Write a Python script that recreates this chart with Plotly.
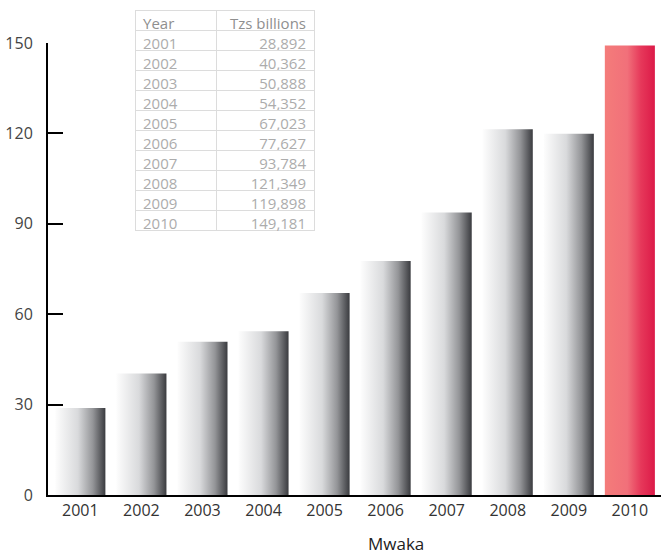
import plotly.graph_objects as go

# Data
years = ["2001", "2002", "2003", "2004", "2005", "2006", "2007", "2008", "2009", "2010"]
tzs_billions = [28.892, 40.362, 50.888, 54.352, 67.023, 77.627, 93.784, 121.349, 119.898, 149.181]
table_values = ["28,892", "40,362", "50,888", "54,352", "67,023", "77,627",
                "93,784", "121,349", "119,898", "149,181"]
y_ticks = [0, 30, 60, 90, 120, 150]
highlight_year = "2010"

W, H = 661, 555
FONT = "Open Sans"

grey_scale = [[0.0, "#fdfdfd"], [0.45, "#d9dadc"], [0.75, "#949598"], [1.0, "#3a3b3f"]]
red_scale = [[0.0, "#f47c7a"], [0.45, "#f1707a"], [0.72, "#e6385a"], [1.0, "#dc1a48"]]

fig = go.Figure()

# Each bar is a filled rectangle with a horizontal gradient
bar_w = 0.82
for i, (yr, v) in enumerate(zip(years, tzs_billions)):
    x0, x1 = i - bar_w / 2, i + bar_w / 2
    fig.add_trace(go.Scatter(
        x=[x0, x1, x1, x0, x0],
        y=[0, 0, v, v, 0],
        mode="lines",
        fill="toself",
        line=dict(width=0),
        fillgradient=dict(type="horizontal",
                          colorscale=red_scale if yr == highlight_year else grey_scale),
        hoverinfo="skip",
        showlegend=False,
    ))

# Inset data table
fig.add_trace(go.Table(
    domain=dict(x=[135 / W, 314 / W], y=[1 - 233 / H, 1 - 10 / H]),
    columnwidth=[81, 98],
    header=dict(
        values=["Year", "Tzs billions"],
        align=["left", "right"],
        font=dict(family=FONT, size=15, color="#8f8f8f"),
        fill_color="white",
        line=dict(color="#dcdcdc", width=1),
        height=20,
    ),
    cells=dict(
        values=[years, table_values],
        align=["left", "right"],
        font=dict(family=FONT, size=15, color="#acacac"),
        fill_color="white",
        line=dict(color="#dcdcdc", width=1),
        height=20,
    ),
))

fig.update_layout(
    width=W, height=H,
    margin=dict(l=0, r=0, t=0, b=0, autoexpand=False),
    paper_bgcolor="white",
    plot_bgcolor="white",
    font=dict(family=FONT, color="#333333"),
    showlegend=False,
    xaxis=dict(
        domain=[48 / W, 1],
        range=[-0.53, 9.51],
        tickmode="array",
        tickvals=list(range(len(years))),
        ticktext=years,
        ticks="",
        showline=True, linecolor="black", linewidth=2,
        showgrid=False, zeroline=False,
        tickfont=dict(family=FONT, size=16, color="#333333"),
        automargin=False,
        fixedrange=True,
    ),
    yaxis=dict(
        domain=[(H - 495) / H, (H - 43) / H],
        range=[0, 150],
        tickmode="array",
        tickvals=y_ticks,
        ticks="inside", ticklen=15, tickwidth=2, tickcolor="black",
        ticklabelstandoff=10,
        showline=True, linecolor="black", linewidth=2,
        showgrid=False, zeroline=False,
        tickfont=dict(family=FONT, size=16, color="#444444"),
        automargin=False,
        fixedrange=True,
    ),
    annotations=[dict(
        text="Mwaka",
        x=396 / W, y=1 - 543 / H,
        xref="paper", yref="paper",
        xanchor="center", yanchor="middle",
        showarrow=False,
        font=dict(family=FONT, size=17, color="#222222"),
    )],
)

fig.write_html("out.html")
